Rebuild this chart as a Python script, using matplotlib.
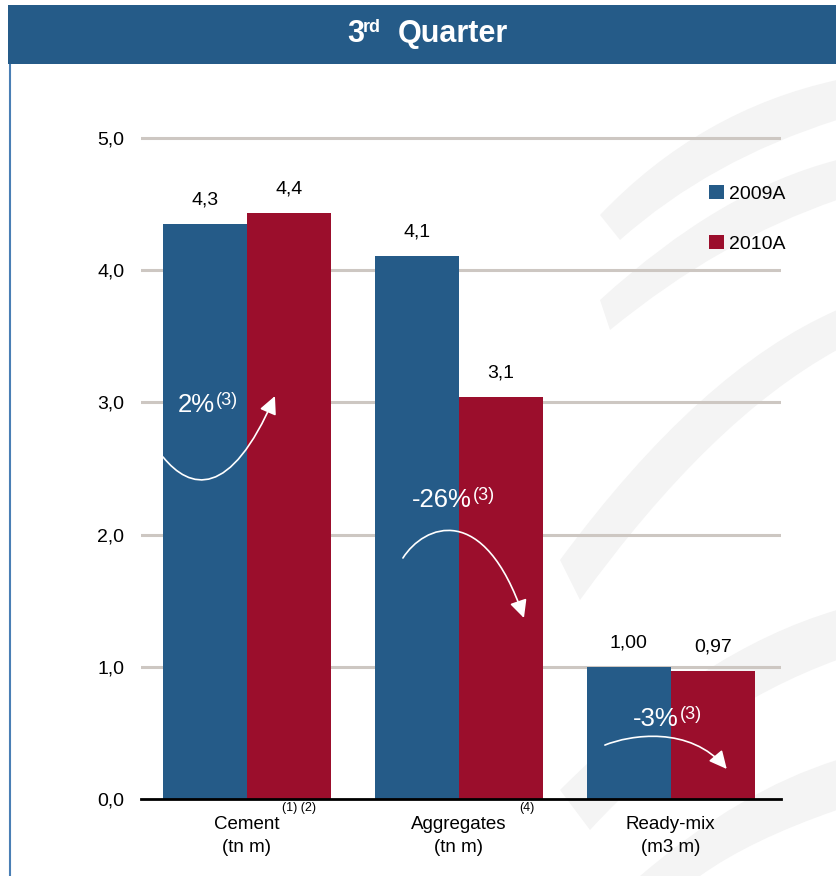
import numpy as np
import matplotlib
matplotlib.use('Agg')
import matplotlib.pyplot as plt
from matplotlib.patches import Rectangle, FancyArrowPatch, PathPatch
from matplotlib.path import Path
import matplotlib.transforms as mtransforms

plt.rcParams['font.family'] = ['Liberation Sans', 'DejaVu Sans']

# data
categories = ['Cement', 'Aggregates', 'Ready-mix']
units = ['(tn m)', '(tn m)', '(m3 m)']
footnotes = ['(1) (2)', '(4)', '']
values_2009 = [4.35, 4.11, 1.00]
values_2010 = [4.43, 3.04, 0.97]
labels_2009 = ['4,3', '4,1', '1,00']
labels_2010 = ['4,4', '3,1', '0,97']
changes = ['2%', '-26%', '-3%']
series_names = ['2009A', '2010A']
yticks = [0, 1, 2, 3, 4, 5]

BLUE = '#255b88'
RED = '#9b0e2c'
W, H = 837, 876

fig = plt.figure(figsize=(W / 100, H / 100), dpi=100)
fig.patch.set_facecolor('white')


def fx(px):
    return px / W


def fy(py):
    return 1 - py / H


# faint background swooshes (pixel coords of the slide)
pix = mtransforms.Affine2D().scale(1 / W, -1 / H).translate(0, 1) + fig.transFigure
bands = [
    [(600, 215), (700, 110), (837, 80), (837, 120), (710, 160), (620, 240)],
    [(600, 300), (720, 190), (837, 160), (837, 200), (720, 240), (610, 330)],
    [(560, 560), (700, 370), (837, 310), (837, 350), (710, 420), (580, 600)],
    [(560, 790), (700, 650), (837, 610), (837, 660), (700, 710), (590, 830)],
    [(640, 876), (740, 790), (837, 760), (837, 810), (750, 840), (700, 876)],
]
for b in bands:
    verts = [b[0], b[1], b[2], b[3], b[4], b[5], b[0]]
    codes = [Path.MOVETO, Path.CURVE3, Path.CURVE3, Path.LINETO,
             Path.CURVE3, Path.CURVE3, Path.CLOSEPOLY]
    fig.patches.append(PathPatch(Path(verts, codes), transform=pix,
                                 facecolor='#f4f4f4', edgecolor='none', zorder=-5))

# title bar and left border
fig.patches.append(Rectangle((fx(8), fy(64)), fx(837 - 8), 59 / H, transform=fig.transFigure,
                             facecolor=BLUE, edgecolor='none', zorder=1))
fig.lines.append(plt.Line2D([fx(10), fx(10)], [0, fy(64)], transform=fig.transFigure,
                            color='#4a7fb5', lw=1.5, zorder=1))
fig.text(fx(356), fy(34), '3', color='white', fontsize=22, fontweight='bold',
         ha='center', va='center', zorder=2)
fig.text(fx(363), fy(27), 'rd', color='white', fontsize=13, fontweight='bold',
         ha='left', va='center', zorder=2)
fig.text(fx(398), fy(34), 'Quarter', color='white', fontsize=22, fontweight='bold',
         ha='left', va='center', zorder=2)

# axes
ymax = 5.2
ax_top = 799 - ymax * 132.2
ax = fig.add_axes([fx(141), fy(799), fx(781 - 141), (799 - ax_top) / H])
ax.set_facecolor('none')

x = np.arange(len(categories))
bw = 0.396
b1 = ax.bar(x - bw / 2, values_2009, bw, color=BLUE, label=series_names[0], zorder=3)
b2 = ax.bar(x + bw / 2, values_2010, bw, color=RED, label=series_names[1], zorder=3)

ax.set_xlim(-0.5, 2.52)
ax.set_ylim(0, ymax)
ax.set_yticks(yticks)
ax.set_yticklabels([f'{t:.1f}'.replace('.', ',') for t in yticks], fontsize=14)
ax.tick_params(axis='y', length=0, pad=12)
ax.tick_params(axis='x', length=0, pad=12)
ax.set_xticks(x)
ax.set_xticklabels([f'{c}\n{u}' for c, u in zip(categories, units)],
                   fontsize=13.5, linespacing=1.45)
for s in ['top', 'right', 'left']:
    ax.spines[s].set_visible(False)
ax.spines['bottom'].set_color('black')
ax.spines['bottom'].set_linewidth(2)
ax.spines['bottom'].set_zorder(4)

for t in yticks[1:]:
    ax.axhline(t, color='#cdc7c2', lw=2.2, zorder=1, xmax=0.998)

# value labels
for bars, labs in [(b1, labels_2009), (b2, labels_2010)]:
    for r, lab in zip(bars, labs):
        ax.annotate(lab, (r.get_x() + r.get_width() / 2, r.get_height()),
                    xytext=(0, 14), textcoords='offset points',
                    ha='center', va='baseline', fontsize=14)

# footnote markers on category labels
blend = mtransforms.blended_transform_factory(ax.transData, ax.transAxes)
foot_dx = [0.245, 0.32, 0]
for i, f in enumerate(footnotes):
    if f:
        ax.annotate(f, (x[i] + foot_dx[i], 0), xycoords=blend,
                    xytext=(0, -6.5), textcoords='offset points',
                    ha='center', va='center', fontsize=9)

# growth arrows: control points as (offset from group centre, y value)
arrow_pts = [
    [(-0.396, 2.587), (-0.269, 2.337), (-0.080, 2.262), (0.132, 3.048)],
    [(-0.264, 1.823), (-0.165, 2.073), (0.118, 2.262), (0.307, 1.369)],
    [(-0.311, 0.408), (-0.193, 0.484), (0.090, 0.560), (0.264, 0.227)],
]
change_pos = [(-0.151, 2.93), (0.061, 2.21), (0.038, 0.555)]
for i, pts in enumerate(arrow_pts):
    verts = [(x[i] + dx, y) for dx, y in pts]
    path = Path(verts, [Path.MOVETO, Path.CURVE4, Path.CURVE4, Path.CURVE4])
    arr = FancyArrowPatch(path=path, arrowstyle='-|>,head_length=0.45,head_width=0.22',
                          mutation_scale=24, color='white', lw=1.2,
                          transform=ax.transData, zorder=5)
    ax.add_patch(arr)
    px_, py_ = change_pos[i]
    ax.text(x[i] + px_, py_, changes[i], color='white', fontsize=18.5,
            ha='right', va='baseline', zorder=6)
    ax.annotate('(3)', (x[i] + px_, py_), xytext=(0.5, 5), textcoords='offset points',
                color='white', fontsize=13, ha='left', va='baseline', zorder=6)

# legend
fig.legend(handles=[b1, b2], labels=series_names, loc='upper left',
           bbox_to_anchor=(fx(709), fy(185)), frameon=False, fontsize=14,
           handlelength=0.75, handleheight=0.75, handletextpad=0.3,
           labelspacing=1.65, borderpad=0, borderaxespad=0)

fig.savefig('out.png', dpi=100)
